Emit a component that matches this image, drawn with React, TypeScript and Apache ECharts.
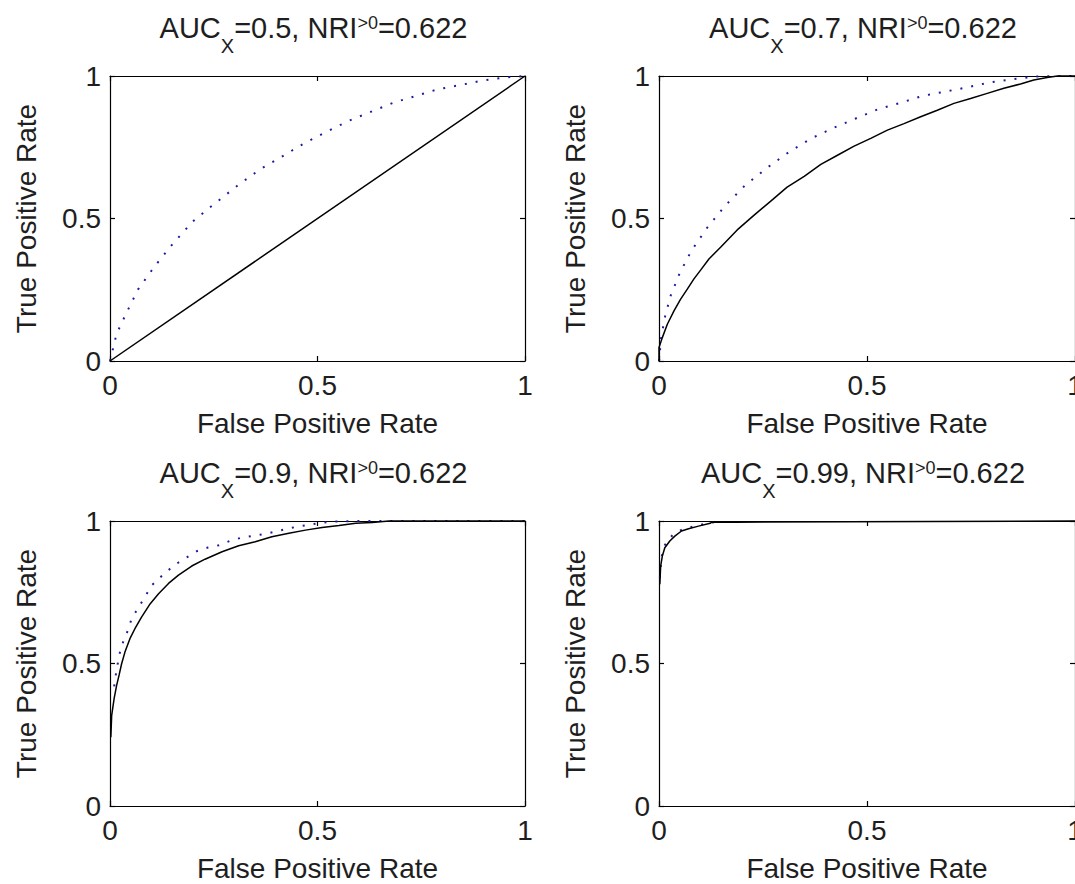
import React, { useEffect, useRef } from "react";
import * as echarts from "echarts";

// ---- data ----
const aucLabels = ["0.5", "0.7", "0.9", "0.99"];
const nriLabel = "0.622";
const axisTicks = [0, 0.5, 1];
const xAxisName = "False Positive Rate";
const yAxisName = "True Positive Rate";

const solid1X = [0, 1];
const solid1Y = [0, 1];
const dot1X = [0, 0.016, 0.042, 0.068, 0.107, 0.151, 0.199, 0.252, 0.306, 0.36, 0.413, 0.467, 0.521, 0.576, 0.628, 0.682, 0.737, 0.789, 0.843, 0.898, 0.95, 1];
const dot1Y = [0, 0.096, 0.176, 0.252, 0.331, 0.411, 0.489, 0.552, 0.614, 0.671, 0.716, 0.763, 0.804, 0.843, 0.874, 0.906, 0.93, 0.953, 0.968, 0.984, 0.995, 1];

const solid2X = [0, 0, 0.008, 0.02, 0.036, 0.052, 0.068, 0.084, 0.1, 0.12, 0.148, 0.188, 0.228, 0.268, 0.308, 0.349, 0.389, 0.429, 0.469, 0.509, 0.549, 0.589, 0.629, 0.669, 0.709, 0.749, 0.789, 0.829, 0.869, 0.901, 0.933, 0.958, 1];
const solid2Y = [0, 0.047, 0.082, 0.129, 0.176, 0.217, 0.252, 0.288, 0.319, 0.358, 0.399, 0.46, 0.511, 0.56, 0.61, 0.648, 0.69, 0.722, 0.754, 0.781, 0.81, 0.833, 0.857, 0.88, 0.904, 0.921, 0.939, 0.957, 0.972, 0.986, 0.995, 1, 1];
const dot2X = [0, 0.005, 0.014, 0.028, 0.05, 0.078, 0.115, 0.158, 0.206, 0.259, 0.313, 0.366, 0.421, 0.473, 0.526, 0.581, 0.633, 0.687, 0.741, 0.793, 0.847, 0.901, 0.95, 1];
const dot2Y = [0, 0.08, 0.153, 0.229, 0.309, 0.387, 0.466, 0.543, 0.615, 0.677, 0.734, 0.781, 0.819, 0.851, 0.883, 0.906, 0.93, 0.945, 0.96, 0.977, 0.988, 0.998, 1, 1];

const solid3X = [0.002, 0.004, 0.01, 0.016, 0.022, 0.028, 0.036, 0.048, 0.06, 0.076, 0.097, 0.117, 0.141, 0.165, 0.197, 0.229, 0.27, 0.31, 0.35, 0.39, 0.431, 0.471, 0.511, 0.552, 0.592, 0.632, 0.672, 0.725, 1];
const solid3Y = [0.241, 0.317, 0.378, 0.423, 0.46, 0.499, 0.54, 0.587, 0.622, 0.663, 0.71, 0.745, 0.781, 0.81, 0.842, 0.866, 0.892, 0.913, 0.927, 0.945, 0.957, 0.968, 0.977, 0.984, 0.992, 0.995, 1, 1, 1];
const dot3X = [0.01, 0.016, 0.024, 0.032, 0.043, 0.052, 0.068, 0.085, 0.101, 0.129, 0.155, 0.181, 0.209, 0.236, 0.263, 0.29, 0.316, 0.344, 0.37, 0.397, 0.424, 0.451, 0.477, 0.503, 0.535, 0.6, 1];
const dot3Y = [0.42, 0.48, 0.54, 0.577, 0.616, 0.657, 0.695, 0.736, 0.775, 0.813, 0.845, 0.869, 0.894, 0.907, 0.915, 0.931, 0.941, 0.948, 0.954, 0.962, 0.972, 0.98, 0.986, 0.992, 0.998, 1, 1];

const solid4X = [0.002, 0.004, 0.008, 0.014, 0.026, 0.038, 0.054, 0.071, 0.095, 0.123, 0.127, 0.183, 1];
const solid4Y = [0.778, 0.842, 0.877, 0.906, 0.93, 0.947, 0.965, 0.973, 0.982, 0.992, 0.996, 0.996, 1];
const dot4X = [0.002, 0.006, 0.012, 0.022, 0.036, 0.055, 0.08, 0.11, 0.15];
const dot4Y = [0.8, 0.87, 0.91, 0.935, 0.955, 0.97, 0.98, 0.99, 1];

const curves = [
  { sx: solid1X, sy: solid1Y, dx: dot1X, dy: dot1Y },
  { sx: solid2X, sy: solid2Y, dx: dot2X, dy: dot2Y },
  { sx: solid3X, sy: solid3Y, dx: dot3X, dy: dot3Y },
  { sx: solid4X, sy: solid4Y, dx: dot4X, dy: dot4Y },
];

// ---- layout ----
const boxes = [
  { left: 110, top: 76, width: 415, height: 285 },
  { left: 659, top: 76, width: 416, height: 285 },
  { left: 110, top: 521, width: 415, height: 285 },
  { left: 659, top: 521, width: 416, height: 285 },
];

const FONT = "'Liberation Sans', Arial, Helvetica, sans-serif";
const TXT = "#1e1e1e";

const zip = (xs: number[], ys: number[]) => xs.map((x, i) => [x, ys[i]]);

function buildOption() {
  const grid: any[] = [];
  const xAxis: any[] = [];
  const yAxis: any[] = [];
  const series: any[] = [];
  const title: any[] = [];
  const lineStyle = { color: "#000", width: 1.2 };
  const tick = { inside: true, length: 5, lineStyle: { color: "#000", width: 1.2 } };
  const label = { fontSize: 28, color: TXT, fontFamily: FONT, fontWeight: "normal" };

  boxes.forEach((b, i) => {
    grid.push({
      left: b.left,
      top: b.top,
      width: b.width,
      height: b.height,
      containLabel: false,
      outerBoundsMode: "none",
    });
    const base = { gridIndex: i, type: "value", min: axisTicks[0], max: axisTicks[2], interval: axisTicks[1] - axisTicks[0], splitLine: { show: false } };
    xAxis.push({
      ...base,
      position: "bottom",
      name: xAxisName,
      nameLocation: "middle",
      nameGap: 48,
      nameTextStyle: { ...label },
      axisLine: { show: true, onZero: false, lineStyle },
      axisTick: tick,
      axisLabel: { ...label, margin: 10, showMinLabel: true, showMaxLabel: true, hideOverlap: false, formatter: (v: number) => String(v) },
    });
    xAxis.push({
      ...base,
      position: "top",
      axisLine: { show: true, onZero: false, lineStyle },
      axisTick: tick,
      axisLabel: { show: false },
    });
    yAxis.push({
      ...base,
      position: "left",
      name: yAxisName,
      nameLocation: "middle",
      nameGap: 70,
      nameTextStyle: { ...label },
      axisLine: { show: true, onZero: false, lineStyle },
      axisTick: tick,
      axisLabel: { ...label, margin: 9, showMinLabel: true, showMaxLabel: true, formatter: (v: number) => String(v) },
    });
    yAxis.push({
      ...base,
      position: "right",
      axisLine: { show: true, onZero: false, lineStyle },
      axisTick: tick,
      axisLabel: { show: false },
    });

    const c = curves[i];
    series.push({
      type: "line",
      xAxisIndex: 2 * i,
      yAxisIndex: 2 * i,
      data: zip(c.dx, c.dy),
      showSymbol: false,
      clip: false,
      lineStyle: { color: "#1c1ca0", width: 2, type: [2, 9] },
      z: 2,
    });
    series.push({
      type: "line",
      xAxisIndex: 2 * i,
      yAxisIndex: 2 * i,
      data: zip(c.sx, c.sy),
      showSymbol: false,
      clip: false,
      lineStyle: { color: "#000", width: 1.5 },
      z: 3,
    });

    title.push({
      text: `{n|AUC}{sub|X}{n|=${aucLabels[i]}, NRI}{sup|>0}{n|=${nriLabel}}`,
      left: b.left + b.width / 2 - 4,
      textAlign: "center",
      top: b.top - 76,
      padding: 0,
      textStyle: {
        fontWeight: "normal",
        rich: {
          n: { fontSize: 29, lineHeight: 56, color: TXT, fontFamily: FONT, fontWeight: "normal", verticalAlign: "middle" },
          sub: { fontSize: 20, lineHeight: 20, color: TXT, fontFamily: FONT, fontWeight: "normal", verticalAlign: "bottom" },
          sup: { fontSize: 18, lineHeight: 18, color: TXT, fontFamily: FONT, fontWeight: "normal", verticalAlign: "top", padding: [14, 0, 0, 0] },
        },
      },
    });
  });

  return { animation: false, backgroundColor: "#fff", title, grid, xAxis, yAxis, series };
}

export default function App() {
  const ref = useRef<HTMLDivElement>(null);
  useEffect(() => {
    if (!ref.current) return;
    const chart = echarts.init(ref.current, undefined, { renderer: "svg" });
    chart.setOption(buildOption() as any);
    return () => chart.dispose();
  }, []);
  return (
    <div
      ref={ref}
      style={{ position: "absolute", left: 0, top: 0, width: 1075, height: 884, background: "#fff" }}
    />
  );
}
